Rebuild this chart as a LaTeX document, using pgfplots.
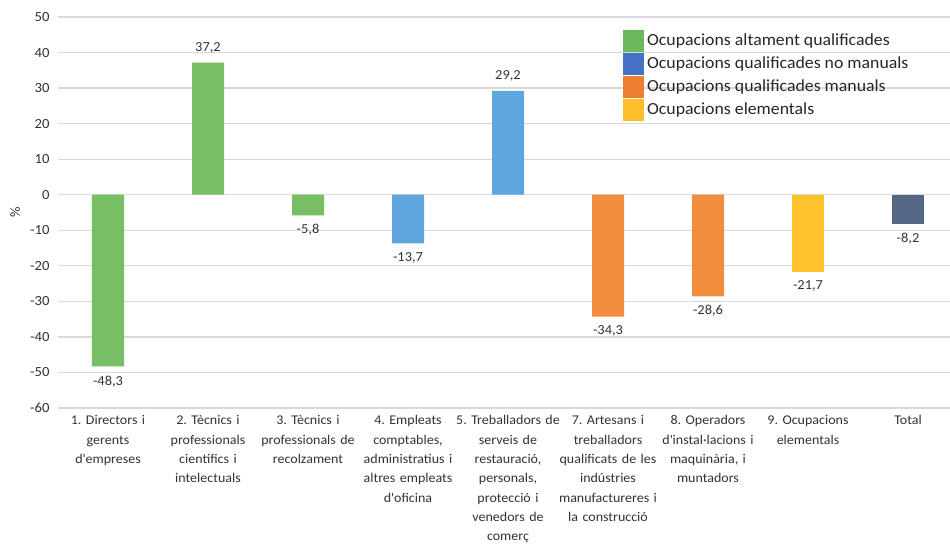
\documentclass[border=0pt]{standalone}
\usepackage{pgfplots}
\pgfplotsset{compat=1.18}
\usepackage{fontspec}
\setmainfont{Carlito}[FakeStretch=1.05]
\definecolor{cgreen}{RGB}{119,190,101}
\definecolor{cblue}{RGB}{93,166,222}
\definecolor{corange}{RGB}{242,141,62}
\definecolor{cyellow}{RGB}{255,195,43}
\definecolor{ctotal}{RGB}{84,104,133}
\definecolor{lgreen}{RGB}{106,185,90}
\definecolor{lblue}{RGB}{68,114,196}
\definecolor{lorange}{RGB}{237,125,49}
\definecolor{lyellow}{RGB}{253,190,40}
\definecolor{gridc}{RGB}{217,217,217}
\definecolor{txt}{RGB}{50,50,50}
\frenchspacing
\newcommand{\q}{\textquotesingle}
\begin{document}
\begin{tikzpicture}
\useasboundingbox (-58bp,-140bp) rectangle (892bp,408bp);
\begin{axis}[
  at={(0,0)}, anchor=south west,
  scale only axis, width=892bp, height=391bp,
  ymin=-60, ymax=50,
  ytick={-60,-50,...,50},
  xmin=-0.5, xmax=8.42,
  xtick={0,...,8},
  xticklabels={
    {1. Directors i\\gerents\\d\q empreses},
    {2. Tècnics i\\professionals\\cientifics i\\intelectuals},
    {3. Tècnics i\\professionals de\\recolzament},
    {4. Empleats\\comptables,\\administratius i\\altres empleats\\d\q oficina},
    {5. Treballadors de\\serveis de\\restauració,\\personals,\\protecció i\\venedors de\\comerç},
    {7. Artesans i\\treballadors\\qualificats de les\\indústries\\manufactureres i\\la construcció},
    {8. Operadors\\d\q instal·lacions i\\maquinària, i\\muntadors},
    {9. Ocupacions\\elementals},
    {Total}},
  xticklabel style={align=center, text width=104bp, font=\fontsize{13.4}{19.4}\selectfont, text=txt, yshift=-4bp},
  yticklabel style={font=\fontsize{14}{16}\selectfont, text=txt, xshift=-5bp},
  ymajorgrids, grid style={gridc, line width=1.2bp},
  axis line style={draw=none},
  major tick length=0pt,
  ylabel={\%}, ylabel style={font=\fontsize{14}{16}\selectfont, text=txt, at={(axis description cs:-0.048,0.5)}, anchor=center},
  /pgf/number format/assume math mode=true,
  ybar, bar width=32bp, bar shift=0pt,
  nodes near coords={\pgfmathprintnumber[use comma, fixed, fixed zerofill, precision=1]{\pgfplotspointmeta}},
  every node near coord/.append style={font=\fontsize{13.8}{16}\selectfont, text=txt, inner sep=9bp},
  legend cell align=left,
  legend style={draw=none, fill=none, at={(0.63,0.972)}, anchor=north west,
    font=\fontsize{17}{19}\selectfont, row sep=0pt, column sep=3bp, text=black!85,
    nodes={inner sep=0pt, text height=14bp, text depth=8bp}},
  legend image code/.code={\fill[#1, draw=none] (0bp,-10bp) rectangle (21bp,12bp);},
]
\addplot[fill=cgreen, draw=none, forget plot] coordinates {(0,-48.3) (1,37.2) (2,-5.8)};
\addplot[fill=cblue, draw=none, forget plot] coordinates {(3,-13.7) (4,29.2)};
\addplot[fill=corange, draw=none, forget plot] coordinates {(5,-34.3) (6,-28.6)};
\addplot[fill=cyellow, draw=none, forget plot] coordinates {(7,-21.7)};
\addplot[fill=ctotal, draw=none, forget plot] coordinates {(8,-8.2)};
\addlegendimage{fill=lgreen}
\addlegendentry{Ocupacions altament qualificades}
\addlegendimage{fill=lblue}
\addlegendentry{Ocupacions qualificades no manuals}
\addlegendimage{fill=lorange}
\addlegendentry{Ocupacions qualificades manuals}
\addlegendimage{fill=lyellow}
\addlegendentry{Ocupacions elementals}
\end{axis}
\end{tikzpicture}
\end{document}
